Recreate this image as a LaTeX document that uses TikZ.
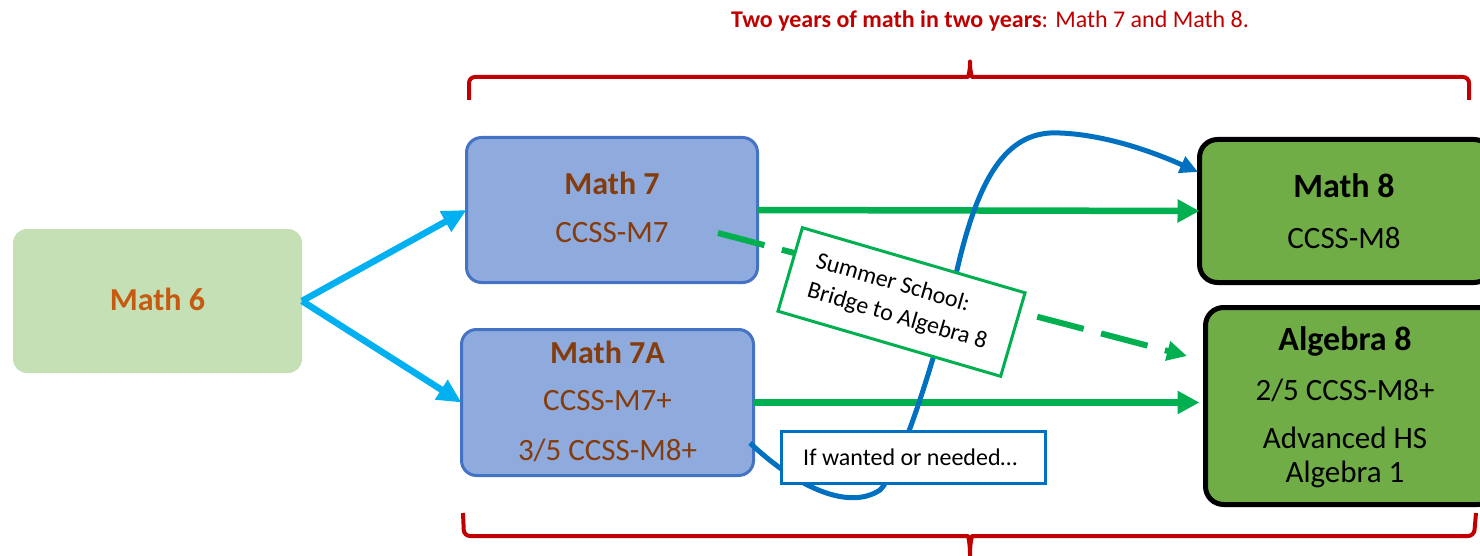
\documentclass[tikz,border=0pt]{standalone}
\usepackage{fontspec}
\setmainfont{Carlito}
\usetikzlibrary{arrows.meta}

\definecolor{bracered}{HTML}{C00000}
\definecolor{sixfill}{HTML}{C5E0B4}
\definecolor{sixtext}{HTML}{C55A11}
\definecolor{sevenfill}{HTML}{8FAADC}
\definecolor{sevenedge}{HTML}{4472C4}
\definecolor{seventext}{HTML}{843C0C}
\definecolor{eightfill}{HTML}{70AD47}
\definecolor{pathcyan}{HTML}{00B0F0}
\definecolor{pathgreen}{HTML}{00B050}
\definecolor{pathblue}{HTML}{0070C0}

\newcommand{\bigtext}{\fontsize{31}{37}\selectfont}
\newcommand{\headtext}{\fontsize{32}{38}\selectfont\bfseries}
\newcommand{\greenhead}{\fontsize{34}{40}\selectfont\bfseries}
\newcommand{\smalltext}{\fontsize{24}{31}\selectfont}

\begin{document}
\begin{tikzpicture}[x=1pt,y=-1pt,
  brace/.style={draw=bracered,line width=4pt,line join=round},
  gradebox/.style={rectangle,inner sep=0pt,outer sep=0pt},
  sixbox/.style={gradebox,fill=sixfill,rounded corners=14pt},
  sevenbox/.style={gradebox,fill=sevenfill,draw=sevenedge,line width=3pt,rounded corners=15pt},
  eightbox/.style={gradebox,fill=eightfill,draw=black,line width=5pt,rounded corners=18pt},
  notebox/.style={gradebox,fill=white,line width=3pt},
  label/.style={anchor=base,inner sep=0pt},
  cyanarrow/.style={draw=pathcyan,line width=6.5pt,-{Triangle[length=24pt,width=22pt]}},
  greenarrow/.style={draw=pathgreen,line width=6.5pt,-{Triangle[length=22pt,width=22pt]}},
  dashedgreen/.style={draw=pathgreen,line width=6pt,dash pattern=on 48pt off 18pt,-{Triangle[length=20pt,width=19pt]}},
  bluearrow/.style={draw=pathblue,line width=5pt,-{Triangle[length=18pt,width=17pt]}}]

\clip (0,0) rectangle (1480,556);

% heading and the two braces
\node[label,text=bracered,font=\smalltext] (title) at (990,28)
  {\bfseries Two years of math in two years\mdseries: Math 7 and Math 8.};

\draw[brace,rounded corners=6pt] (469,100) -- (469,77) -- (962,77)
  .. controls (968,77) and (970,71) .. (970,58)
  .. controls (970,71) and (972,77) .. (978,77)
  -- (1469,77) -- (1469,100);

\draw[brace,rounded corners=6pt] (463,513) -- (464,536) -- (962,536)
  .. controls (968,536) and (970,543) .. (970,560)
  .. controls (970,543) and (972,536) .. (978,536)
  -- (1474,536) -- (1476,513);

% course boxes
\node[sixbox,minimum width=289pt,minimum height=144pt] (m6) at (157.5,301) {};
\node[sevenbox,minimum width=291pt,minimum height=145pt] (m7) at (612,210) {};
\node[sevenbox,minimum width=292pt,minimum height=146pt] (m7a) at (607.5,402.5) {};
\node[eightbox,minimum width=292.5pt,minimum height=143pt] (m8) at (1345.75,211) {};
\node[eightbox,minimum width=290.5pt,minimum height=197pt] (alg8) at (1350.75,406) {};

% path ends away from box centres
\coordinate (dashstart) at (718,233);
\coordinate (dashend) at (1187,356);
\coordinate (bluestart) at (750,443);
\coordinate (blueend) at (1198,172);

% connectors
\draw[cyanarrow] (m6.east) -- (m7.west);
\draw[cyanarrow] (m6.east) -- (m7a.west);
\draw[greenarrow] (m7.east) -- (m8.west);
\draw[greenarrow] (m7a.east) -- (m8.west |- m7a.east);
\draw[dashedgreen] (dashstart) -- (dashend);
\draw[bluearrow] (bluestart) .. controls (800,490) and (850,510) .. (880,490)
  .. controls (900,470) and (935,360) .. (957,270)
  .. controls (980,170) and (1010,130) .. (1060,133)
  .. controls (1110,135) and (1160,155) .. (blueend);

% note boxes
\node[notebox,draw=pathgreen,minimum width=232pt,minimum height=87pt,rotate=-16.3,
  font=\smalltext,align=left] (summer) at (901.5,302)
  {Summer School:\\Bridge to Algebra 8};
\node[notebox,draw=pathblue,minimum width=264pt,minimum height=52pt] (ifbox) at (913.5,457.5) {};
\node[anchor=base west,inner sep=0pt,font=\smalltext] (iftext) at (803,465) {If wanted or needed…};

% course texts
\node[label,font=\headtext,text=sixtext] (m6t) at (157.5,310) {Math 6};

\node[label,font=\headtext,text=seventext] (m7t) at (612,195) {Math 7};
\node[label,font=\bigtext,text=seventext] (m7s) at (612,243) {CCSS-M7};

\node[label,font=\headtext,text=seventext] (m7at) at (607.5,363) {Math 7A};
\node[label,font=\bigtext,text=seventext] (m7as) at (607.5,410) {CCSS-M7+};
\node[label,font=\bigtext,text=seventext] (m7ax) at (607.5,460) {3/5 CCSS-M8+};

\node[label,font=\greenhead] (m8t) at (1344,198) {Math 8};
\node[label,font=\bigtext] (m8s) at (1344,248) {CCSS-M8};

\node[label,font=\greenhead] (alg8t) at (1345,350) {Algebra 8};
\node[label,font=\bigtext] (alg8s) at (1345,400) {2/5 CCSS-M8+};
\node[label,font=\bigtext] (alg8a) at (1345,448) {Advanced HS};
\node[label,font=\bigtext] (alg8b) at (1345,482) {Algebra 1};

\end{tikzpicture}
\end{document}
